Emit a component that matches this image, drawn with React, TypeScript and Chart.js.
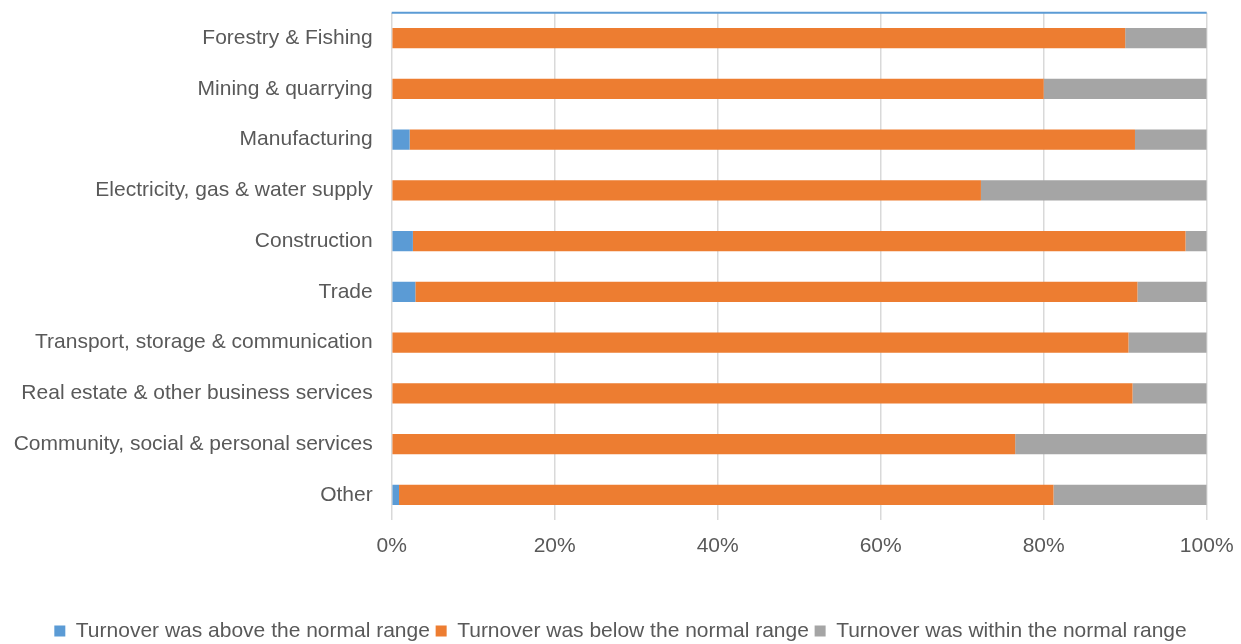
import React, { useEffect, useRef } from "react";
import { Chart, registerables } from "chart.js";

Chart.register(...registerables);

const categories = [
  "Forestry & Fishing",
  "Mining & quarrying",
  "Manufacturing",
  "Electricity, gas & water supply",
  "Construction",
  "Trade",
  "Transport, storage & communication",
  "Real estate & other business services",
  "Community, social & personal services",
  "Other",
];

const aboveNormal = [0, 0, 2.2, 0, 2.6, 2.9, 0, 0, 0, 0.9];
const belowNormal = [90.0, 80.0, 89.0, 72.3, 94.8, 88.6, 90.4, 90.9, 76.5, 80.3];
const withinNormal = [10.0, 20.0, 8.8, 27.7, 2.6, 8.5, 9.6, 9.1, 23.5, 18.8];

const seriesNames = [
  "Turnover was above the normal range",
  "Turnover was below the normal range",
  "Turnover was within the normal range",
];

const xTicks = [0, 20, 40, 60, 80, 100];

const FONT = "'Liberation Sans', Arial, sans-serif";
const TEXT = "#595959";

const topLine = {
  id: "topLine",
  afterDraw(chart: any) {
    const { ctx, chartArea } = chart;
    ctx.save();
    ctx.strokeStyle = "#5B9BD5";
    ctx.lineWidth = 2;
    ctx.beginPath();
    ctx.moveTo(chartArea.left, chartArea.top);
    ctx.lineTo(chartArea.right, chartArea.top);
    ctx.stroke();
    ctx.restore();
  },
};

export default function App() {
  const ref = useRef<HTMLCanvasElement | null>(null);
  useEffect(() => {
    if (!ref.current) return;
    const chart = new Chart(ref.current, {
      type: "bar",
      data: {
        labels: categories,
        datasets: [
          { label: seriesNames[0], data: aboveNormal, backgroundColor: "#5B9BD5" },
          { label: seriesNames[1], data: belowNormal, backgroundColor: "#ED7D31" },
          { label: seriesNames[2], data: withinNormal, backgroundColor: "#A5A5A5" },
        ],
      },
      options: {
        indexAxis: "y",
        animation: false,
        responsive: false,
        maintainAspectRatio: false,
        datasets: { bar: { barPercentage: 0.4, categoryPercentage: 1 } },
        layout: { padding: { top: 12.7, right: 0, left: 0, bottom: -7.4 } },
        scales: {
          x: {
            stacked: true,
            min: 0,
            max: 100,
            afterBuildTicks: (axis: any) => {
              axis.ticks = xTicks.map((v) => ({ value: v }));
            },
            afterFit: (axis: any) => {
              axis.height = 94.45;
              axis.paddingRight = 34.3;
              axis.paddingLeft = 0;
            },
            ticks: {
              callback: (v: any) => v + "%",
              color: TEXT,
              font: { family: FONT, size: 21 },
              padding: 0,
              maxRotation: 0,
            },
            grid: {
              color: "#D9D9D9",
              lineWidth: 1.5,
              drawTicks: true,
              tickLength: 13,
              tickColor: "rgba(0,0,0,0)",
            },
            border: { display: false },
          },
          y: {
            stacked: true,
            afterFit: (axis: any) => {
              axis.width = 391.7;
              axis.paddingTop = 0;
              axis.paddingBottom = 0;
            },
            ticks: {
              color: TEXT,
              font: { family: FONT, size: 21 },
              padding: 0,
              autoSkip: false,
            },
            grid: { display: false, drawTicks: true, tickLength: 19 },
            border: { display: false },
          },
        },
        plugins: {
          legend: {
            position: "bottom",
            labels: {
              color: TEXT,
              font: { family: FONT, size: 21 },
              boxWidth: 11,
              boxHeight: 11,
              padding: 5.75,
            },
          },
          tooltip: { enabled: false },
          title: { display: false },
        },
      },
      plugins: [topLine],
    });
    return () => chart.destroy();
  }, []);
  return (
    <div style={{ position: "fixed", left: 0, top: 0, width: 1241, height: 644, background: "#fff" }}>
      <canvas ref={ref} width={1241} height={644} style={{ display: "block" }} />
    </div>
  );
}
